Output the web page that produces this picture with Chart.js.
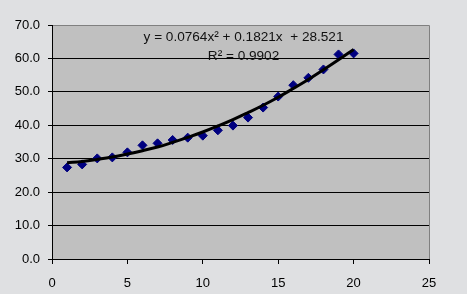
<!DOCTYPE html>
<html>
<head>
<meta charset="utf-8">
<script src="https://cdn.jsdelivr.net/npm/chart.js@4"></script>
<style>
  html, body { margin: 0; padding: 0; background: #dfe0e2; }
  #wrap { width: 467px; height: 294px; }
</style>
</head>
<body>
<div id="wrap"><canvas id="grafico" width="467" height="294"></canvas></div>
<script>
// valores
const xs = [1, 2, 3, 4, 5, 6, 7, 8, 9, 10, 11, 12, 13, 14, 15, 16, 17, 18, 19, 20];
const medidos = [27.4, 28.3, 30.1, 30.4, 31.9, 34.0, 34.6, 35.6, 36.3, 36.9, 38.5, 39.9, 42.3, 45.3, 48.6, 52.0, 54.2, 56.7, 61.2, 61.5];
const tendencia = [28.8, 29.2, 29.8, 30.5, 31.4, 32.4, 33.5, 34.9, 36.4, 38.0, 39.8, 41.7, 43.8, 46.0, 48.4, 51.0, 53.7, 56.6, 59.6, 62.7];
const equacao = 'y = 0.0764x² + 0.1821x  + 28.521';
const r2 = 'R² = 0.9902';
const xTicks = [0, 5, 10, 15, 20, 25];

const fonte = { family: 'Liberation Sans, Arial, sans-serif', size: 13 };

const fundoPlot = {
  id: 'fundoPlot',
  beforeDraw(chart) {
    const { ctx, chartArea: a } = chart;
    ctx.save();
    ctx.fillStyle = '#c0c0c0';
    ctx.fillRect(a.left, a.top, a.right - a.left, a.bottom - a.top);
    ctx.strokeStyle = '#808080';
    ctx.lineWidth = 1;
    ctx.beginPath();
    ctx.moveTo(a.left, a.top + 0.5);
    ctx.lineTo(a.right + 0.5, a.top + 0.5);
    ctx.lineTo(a.right + 0.5, a.bottom);
    ctx.stroke();
    ctx.restore();
  },
  afterDraw(chart) {
    const { ctx, scales } = chart;
    ctx.save();
    ctx.fillStyle = '#111';
    ctx.font = '13.6px ' + fonte.family;
    ctx.textAlign = 'center';
    ctx.textBaseline = 'middle';
    const cx = scales.x.getPixelForValue(12.7);
    ctx.fillText(equacao, cx, scales.y.getPixelForValue(66.2));
    ctx.fillText(r2, cx, scales.y.getPixelForValue(60.6));
    ctx.restore();
  }
};

new Chart(document.getElementById('grafico'), {
  type: 'scatter',
  data: {
    datasets: [
      {
        type: 'line',
        data: xs.map((x, i) => ({ x: x, y: tendencia[i] })),
        borderColor: '#000',
        borderWidth: 3,
        pointRadius: 0,
        tension: 0.4,
        fill: false,
        order: 0
      },
      {
        data: xs.map((x, i) => ({ x: x, y: medidos[i] })),
        backgroundColor: '#000080',
        borderColor: '#000080',
        pointStyle: 'rectRot',
        pointRadius: 4.5,
        order: 1
      }
    ]
  },
  options: {
    responsive: false,
    animation: false,
    layout: { padding: { left: 0, right: 38, top: 25, bottom: 0 } },
    plugins: { legend: { display: false }, tooltip: { enabled: false } },
    scales: {
      x: {
        type: 'linear',
        min: 0,
        max: 25,
        afterFit(s) { s.height = 35; },
        afterBuildTicks(s) { s.ticks = xTicks.map(v => ({ value: v })); },
        grid: { drawOnChartArea: false, drawTicks: true, tickLength: 5, color: '#000', tickColor: '#000', tickWidth: 1 },
        border: { color: '#000', width: 1 },
        ticks: { color: '#000', font: fonte, padding: 12, maxRotation: 0 }
      },
      y: {
        min: 0,
        max: 70,
        afterFit(s) { s.width = 52; },
        grid: {
          color: ctx => (ctx.tick && ctx.tick.value === 70 ? 'rgba(0,0,0,0)' : '#000'),
          tickColor: '#000',
          tickLength: 4
        },
        border: { color: '#000', width: 1 },
        ticks: { stepSize: 10, color: '#000', font: fonte, padding: 8, callback: v => v.toFixed(1) }
      }
    }
  },
  plugins: [fundoPlot]
});
</script>
</body>
</html>
